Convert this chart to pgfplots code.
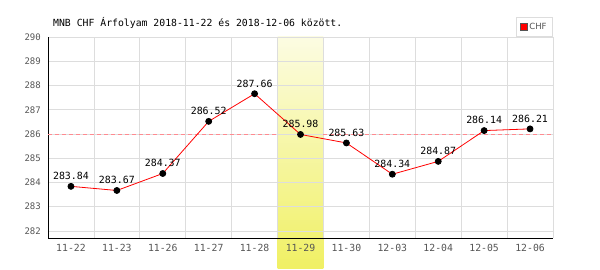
\documentclass[border=0pt]{standalone}
\usepackage{pgfplots}
\pgfplotsset{compat=1.18}
\usepackage{fontspec}
\setmainfont{DejaVu Sans}
\newfontfamily\monofont{DejaVu Sans Mono}
\definecolor{gridc}{HTML}{DDDDDD}
\definecolor{labc}{HTML}{555555}
\definecolor{hltop}{HTML}{FCFCE2}
\definecolor{hlbot}{HTML}{F0F064}
\definecolor{avgc}{HTML}{FF8A90}
\pgfdeclarelayer{highlight}
\pgfplotsset{layers/mylayers/.define layer set={axis background,axis grid,highlight,axis ticks,axis lines,axis tick labels,pre main,main,axis descriptions,axis foreground}{}}
\begin{document}
\begin{tikzpicture}
\path (0,0) rectangle (600bp,270bp);
\begin{axis}[
  set layers=mylayers,
  at={(48bp,32bp)}, anchor=south west,
  scale only axis, width=505bp, height=201bp,
  xmin=-0.5, xmax=10.5, ymin=281.71, ymax=290,
  clip=false,
  axis lines*=left, axis line style={black,-, line width=0.8bp},
  xtick={0,...,10},
  xticklabels={11-22,11-23,11-26,11-27,11-28,11-29,11-30,12-03,12-04,12-05,12-06},
  minor xtick={0.5,1.5,...,10.5},
  ytick={282,...,290},
  major tick length=0pt, minor tick length=0pt,
  ymajorgrids, xminorgrids, xmajorgrids=false,
  grid style={gridc, line width=0.8bp},
  minor grid style={gridc, line width=0.8bp},
  /pgf/number format/assume math mode=true,
  xticklabel style={font=\monofont\fontsize{9.8bp}{11bp}\selectfont, text=labc, anchor=center, inner sep=0pt, yshift=-10bp},
  yticklabel style={font=\monofont\fontsize{9bp}{11bp}\selectfont, text=labc, anchor=east, inner sep=0pt, xshift=-7bp},
  legend style={at={(rel axis cs:1,1)}, anchor=south east, draw=gridc, line width=0.8bp,
    font=\fontsize{8.5bp}{10bp}\selectfont, text=labc, inner xsep=4bp, inner ysep=3.5bp,
    legend cell align=left},
  legend image code/.code={\draw[labc, fill=red, line width=0.5bp] (0bp,-3.5bp) rectangle (7bp,3.5bp);},
]
\addplot[on layer=highlight, forget plot, draw=none, top color=hltop, bottom color=hlbot, mark=none]
  coordinates {(4.5,290) (5.5,290) (5.5,280.47) (4.5,280.47)} -- cycle;
\addplot[forget plot, color=avgc, dashed, dash pattern=on 4bp off 3bp, line width=1.3bp, mark=none]
  coordinates {(-0.5,285.98) (4.5,285.98)};
\addplot[forget plot, color=avgc, dashed, dash pattern=on 4bp off 3bp, line width=1.3bp, mark=none]
  coordinates {(5.5,285.98) (10.5,285.98)};
\addplot[red, line width=0.8bp, mark=*, mark size=3bp, mark options={black, fill=black},
  nodes near coords, point meta=y,
  nodes near coords style={font=\monofont\fontsize{9.9bp}{11bp}\selectfont, text=black, anchor=base, inner sep=0pt, yshift=6.7bp,
    /pgf/number format/.cd, fixed, fixed zerofill, precision=2, assume math mode=true}]
  coordinates {(0,283.84) (1,283.67) (2,284.37) (3,286.52) (4,287.66) (5,285.98) (6,285.63) (7,284.34) (8,284.87) (9,286.14) (10,286.21)};
\addlegendentry{CHF}
\node[anchor=base west, inner sep=0pt, font=\monofont\fontsize{9.8bp}{11bp}\selectfont] at ([xshift=5bp, yshift=10bp]rel axis cs:0,1) {MNB CHF Árfolyam 2018-11-22 és 2018-12-06 között.};
\end{axis}
\end{tikzpicture}
\end{document}
